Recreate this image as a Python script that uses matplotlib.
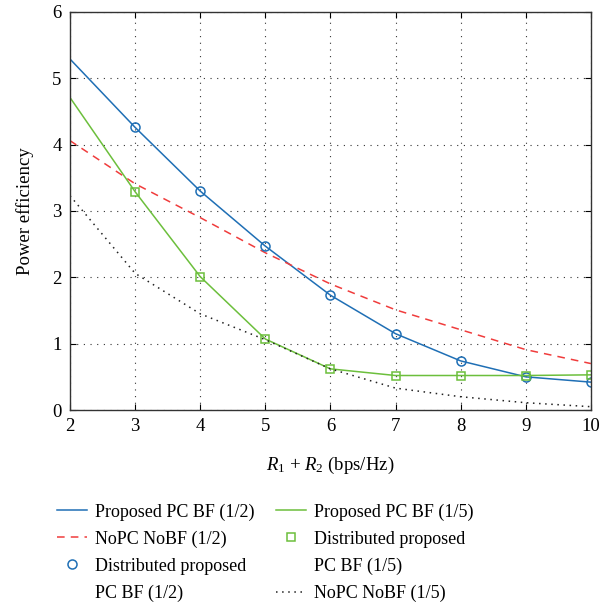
import matplotlib
matplotlib.use('Agg')
import matplotlib.pyplot as plt
from matplotlib.lines import Line2D

rate = [2, 3, 4, 5, 6, 7, 8, 9, 10]
marker_rate = [3, 4, 5, 6, 7, 8, 9, 10]

pc_bf_half = [5.29, 4.26, 3.30, 2.47, 1.73, 1.15, 0.74, 0.50, 0.42]
nopc_half = [4.06, 3.41, 2.90, 2.37, 1.90, 1.51, 1.21, 0.91, 0.70]
dist_half = [4.26, 3.30, 2.47, 1.73, 1.15, 0.74, 0.50, 0.42]
pc_bf_fifth = [4.71, 3.29, 2.01, 1.07, 0.62, 0.52, 0.52, 0.52, 0.53]
dist_fifth = [3.29, 2.01, 1.07, 0.62, 0.52, 0.52, 0.52, 0.53]
nopc_fifth = [3.23, 2.06, 1.45, 1.06, 0.62, 0.33, 0.20, 0.11, 0.05]

plt.rcParams['font.family'] = ['Liberation Serif', 'DejaVu Serif']
plt.rcParams['mathtext.fontset'] = 'custom'
plt.rcParams['mathtext.it'] = 'Liberation Serif:italic'
plt.rcParams['mathtext.rm'] = 'Liberation Serif'

fig = plt.figure(figsize=(6.15, 6.05), dpi=100)
ax = fig.add_axes([0.1138, 0.3223, 0.847, 0.658])

blue = '#1f6fb5'
red = '#f03c3c'
green = '#6cbf3c'

h1, = ax.plot(rate, pc_bf_half, color=blue, lw=1.1)
h2, = ax.plot(rate, nopc_half, color=red, lw=1.1, ls=(0, (5, 4)))
h3, = ax.plot(marker_rate, dist_half, ls='none', marker='o', ms=6.5, mfc='none',
              mec=blue, mew=1.1)
h4, = ax.plot(rate, pc_bf_fifth, color=green, lw=1.1)
h5, = ax.plot(marker_rate, dist_fifth, ls='none', marker='s', ms=6, mfc='none',
              mec=green, mew=1.1)
h6, = ax.plot(rate, nopc_fifth, color='#222222', lw=1.1, ls=(0, (1, 3)))

ax.set_xlim(2, 10)
ax.set_ylim(0, 6)
ax.set_xticks(range(2, 11))
ax.set_yticks(range(0, 7))
ax.grid(True, color='#333333', ls=(0, (1, 5)), lw=0.8)
ax.tick_params(direction='in', top=True, right=True, labelsize=13.5, length=4, pad=6)
for s in ax.spines.values():
    s.set_linewidth(1.0)
    s.set_color('#333333')

ax.set_xlabel('$R_1$ + $R_2$ (bps/Hz)', fontsize=13.5, labelpad=14)
ax.set_ylabel('Power efficiency', fontsize=13.5, labelpad=13)

# legend laid out row by row, wrapped labels continue on a blank-handle row
blank = Line2D([], [], ls='none')
handles = [h1, h2, h3, blank, h4, h5, blank, h6]
labels = ['Proposed PC BF (1/2)', 'NoPC NoBF (1/2)', 'Distributed proposed', 'PC BF (1/2)',
          'Proposed PC BF (1/5)', 'Distributed proposed', 'PC BF (1/5)', 'NoPC NoBF (1/5)']
fig.legend(handles, labels, loc='upper left', bbox_to_anchor=(0.078, 0.183), ncol=2,
           frameon=False, fontsize=13, handlelength=1.65, handletextpad=0.45,
           columnspacing=1.2, labelspacing=0.55, borderpad=0)

fig.savefig('out.png', dpi=100)
